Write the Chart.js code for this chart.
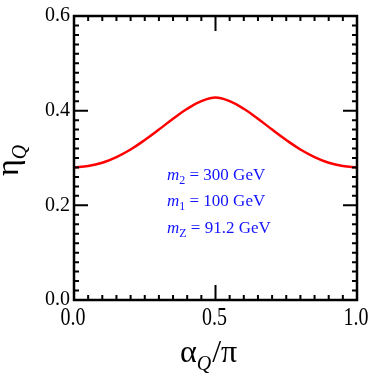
<!DOCTYPE html>
<html>
<head>
<meta charset="utf-8">
<script src="https://cdn.jsdelivr.net/npm/chart.js@4/dist/chart.umd.min.js"></script>
<style>
  html, body { margin: 0; padding: 0; background: #fff; }
  #wrap { width: 371px; height: 382px; position: relative; }
</style>
</head>
<body>
<div id="wrap"><canvas id="grafico"></canvas></div>
<script>
// valores
const alphaVals = [0, 0.05, 0.1, 0.15, 0.2, 0.25, 0.3, 0.35, 0.4, 0.45, 0.5,
                   0.55, 0.6, 0.65, 0.7, 0.75, 0.8, 0.85, 0.9, 0.95, 1.0];
const etaVals = [0.280, 0.283, 0.290, 0.302, 0.318, 0.338, 0.360, 0.383, 0.404, 0.420, 0.428,
                 0.420, 0.404, 0.383, 0.360, 0.338, 0.318, 0.302, 0.290, 0.283, 0.280];
const yTicks = [0, 0.2, 0.4, 0.6];
const xTicks = [0, 0.5, 1.0];
const legendLines = [
    { sub: '2', rest: ' = 300 GeV' },
    { sub: '1', rest: ' = 100 GeV' },
    { sub: 'Z', rest: ' = 91.2 GeV' }
];

const serif = '"Liberation Serif", "Times New Roman", serif';

// moldura, ticks para dentro, títulos e texto azul
const molduraPlugin = {
    id: 'moldura',
    afterDraw(chart) {
        const ctx = chart.ctx;
        const a = chart.chartArea;
        const xs = chart.scales.x;
        const ys = chart.scales.y;
        ctx.save();
        ctx.strokeStyle = '#000';
        ctx.lineCap = 'butt';

        // ticks menores e maiores
        ctx.lineWidth = 2;
        for (let i = 0; i <= 20; i++) {
            const px = xs.getPixelForValue(i * 0.05);
            const len = (i % 10 === 0) ? 15 : 5;
            ctx.beginPath();
            ctx.moveTo(px, a.bottom); ctx.lineTo(px, a.bottom - len);
            ctx.moveTo(px, a.top); ctx.lineTo(px, a.top + len);
            ctx.stroke();
        }
        for (let i = 0; i <= 30; i++) {
            const py = ys.getPixelForValue(i * 0.02);
            const len = (i % 10 === 0) ? 14 : 5;
            ctx.beginPath();
            ctx.moveTo(a.left, py); ctx.lineTo(a.left + len, py);
            ctx.moveTo(a.right, py); ctx.lineTo(a.right - len, py);
            ctx.stroke();
        }
        ctx.lineWidth = 2.5;
        ctx.strokeRect(a.left, a.top, a.right - a.left, a.bottom - a.top);

        // rótulos do eixo x (um pouco esticados na vertical, como na figura)
        ctx.fillStyle = '#000';
        ctx.textAlign = 'center';
        ctx.textBaseline = 'alphabetic';
        ctx.font = '20px ' + serif;
        xs.ticks.forEach(t => {
            const px = xs.getPixelForValue(t.value);
            ctx.save();
            ctx.translate(px - 1, 325);
            ctx.scale(1, 1.3);
            ctx.fillText(t.value.toFixed(1), 0, 0);
            ctx.restore();
        });

        // título do eixo x: alpha_Q / pi
        ctx.textAlign = 'left';
        let x = 180, y = 362;
        ctx.font = '32px ' + serif;
        ctx.fillText('\u03b1', x, y);
        x += ctx.measureText('\u03b1').width;
        ctx.font = 'italic 20px ' + serif;
        ctx.fillText('Q', x, y + 8);
        x += ctx.measureText('Q').width + 1;
        ctx.font = '32px ' + serif;
        ctx.fillText('/\u03c0', x, y);

        // título do eixo y: eta_Q (rodado)
        ctx.save();
        ctx.translate(18, 176);
        ctx.rotate(-Math.PI / 2);
        ctx.font = '32px ' + serif;
        ctx.fillText('\u03b7', 0, 0);
        const w = ctx.measureText('\u03b7').width;
        ctx.font = 'italic 20px ' + serif;
        ctx.fillText('Q', w, 8);
        ctx.restore();

        // texto azul
        ctx.fillStyle = '#1414ff';
        const bases = [180, 206, 233];
        legendLines.forEach((ln, i) => {
            let tx = 167;
            const ty = bases[i];
            ctx.font = 'italic 17px ' + serif;
            ctx.fillText('m', tx, ty);
            tx += ctx.measureText('m').width;
            ctx.font = '12px ' + serif;
            ctx.fillText(ln.sub, tx, ty + 4);
            tx += ctx.measureText(ln.sub).width;
            ctx.font = '17px ' + serif;
            ctx.fillText(ln.rest, tx, ty);
        });
        ctx.restore();
    }
};

const config = {
    type: 'line',
    data: {
        datasets: [{
            data: alphaVals.map((v, i) => ({ x: v, y: etaVals[i] })),
            borderColor: '#ff0000',
            borderWidth: 2.5,
            pointRadius: 0,
            tension: 0.4,
            fill: false
        }]
    },
    options: {
        responsive: false,
        animation: false,
        layout: { padding: { top: 9, right: 14, left: 0, bottom: 0 } },
        plugins: { legend: { display: false }, tooltip: { enabled: false } },
        scales: {
            x: {
                type: 'linear', min: 0, max: 1,
                afterFit: (s) => { s.height = 82; },
                afterBuildTicks: (s) => { s.ticks = xTicks.map(v => ({ value: v })); },
                grid: { display: false, drawTicks: false },
                border: { display: false },
                ticks: { display: false }
            },
            y: {
                type: 'linear', min: 0, max: 0.6,
                afterFit: (s) => { s.width = 74; },
                afterBuildTicks: (s) => { s.ticks = yTicks.map(v => ({ value: v })); },
                grid: { display: false, drawTicks: false },
                border: { display: false },
                ticks: {
                    padding: 4,
                    color: '#000',
                    font: { family: serif, size: 20 },
                    callback: (v) => v.toFixed(1)
                }
            }
        }
    },
    plugins: [molduraPlugin]
};

const canvas = document.getElementById('grafico');
canvas.width = 371;
canvas.height = 382;
new Chart(canvas.getContext('2d'), config);
</script>
</body>
</html>
